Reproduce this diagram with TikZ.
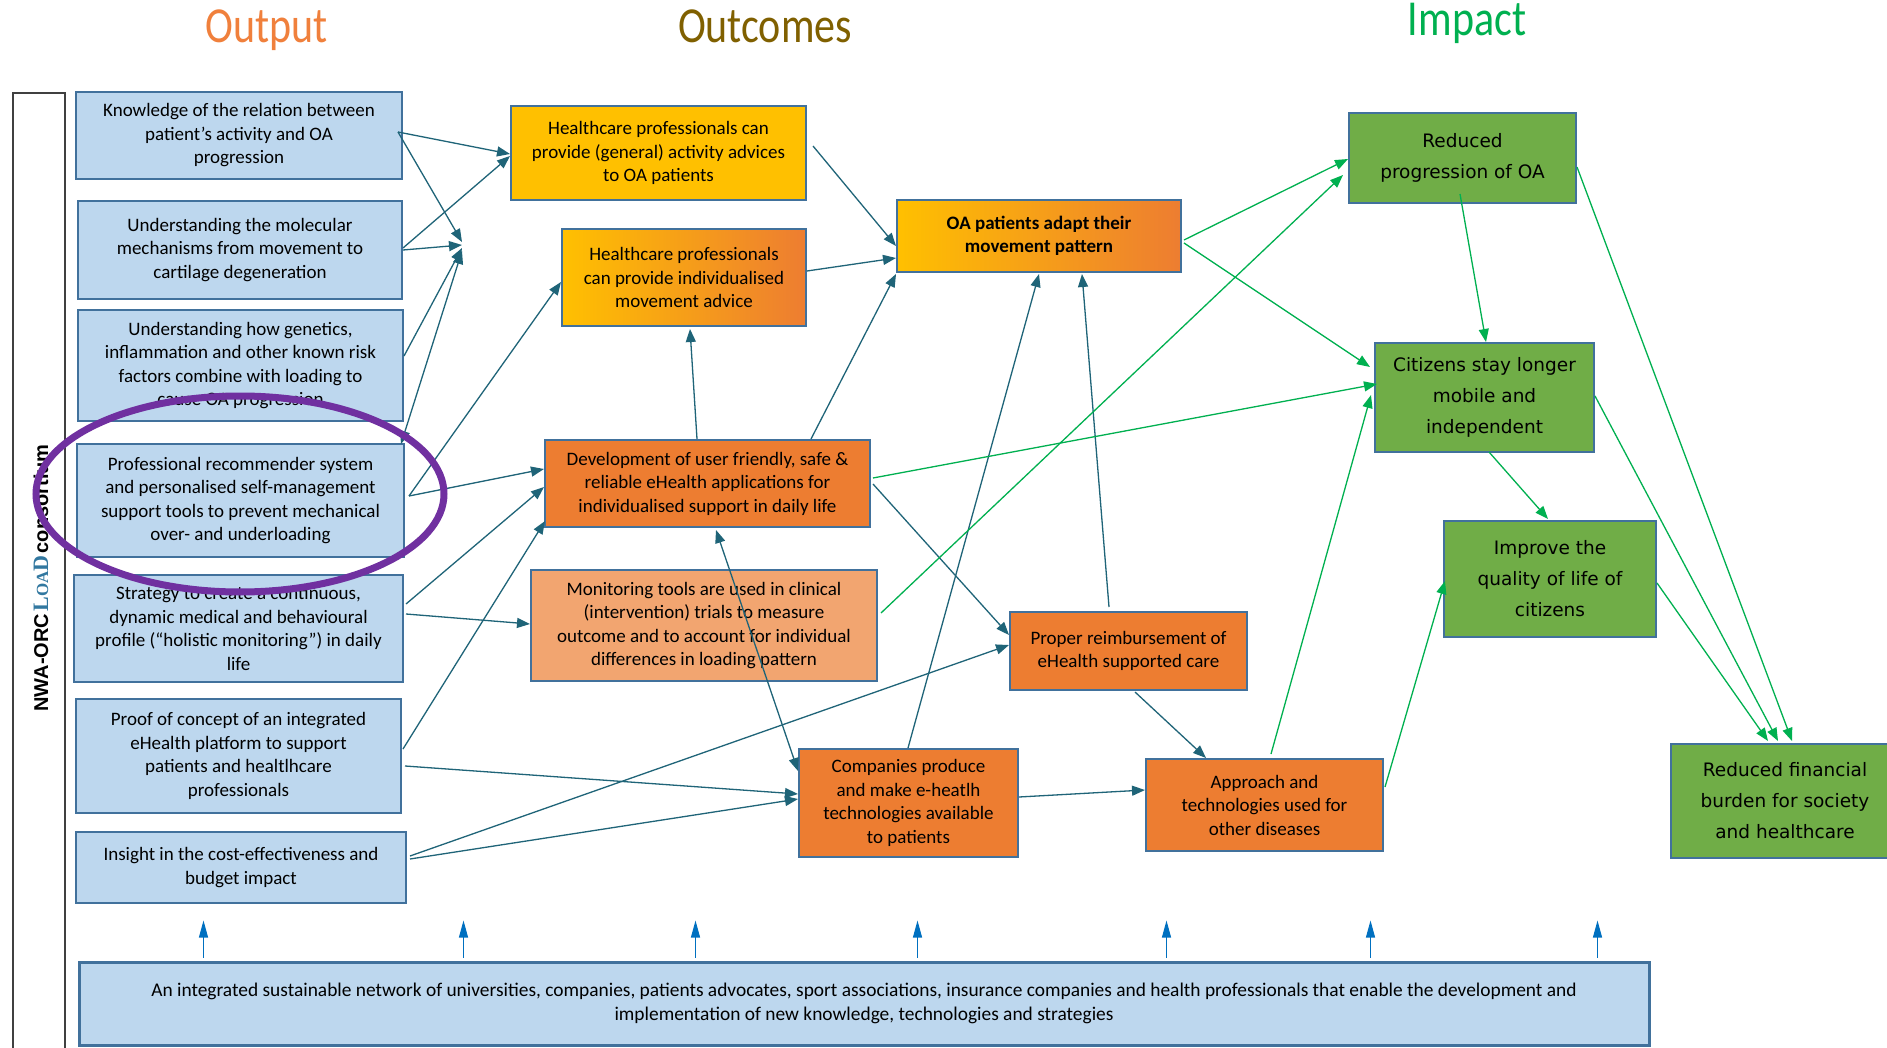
\documentclass[tikz,border=0pt]{standalone}
\usepackage{graphicx}
\usepackage{fontspec}
\setmainfont{Carlito}
\newfontfamily\greenfont{DejaVu Sans}
\newfontfamily\lsans{Liberation Sans}
\newfontfamily\lserif{Liberation Serif}
\usetikzlibrary{arrows.meta,calc}
\definecolor{bluefill}{RGB}{189,215,238}
\definecolor{boxline}{RGB}{65,113,156}
\definecolor{ogold}{RGB}{255,192,0}
\definecolor{oorange}{RGB}{237,125,49}
\definecolor{opeach}{RGB}{242,165,112}
\definecolor{igreen}{RGB}{112,173,71}
\definecolor{tealline}{RGB}{31,100,120}
\definecolor{gline}{RGB}{0,176,80}
\definecolor{barrowc}{RGB}{0,112,192}
\definecolor{ellc}{RGB}{112,48,160}
\definecolor{titleout}{RGB}{240,128,60}
\definecolor{titleoc}{RGB}{128,96,0}
\definecolor{titleimp}{RGB}{0,176,80}
\definecolor{framec}{RGB}{64,64,64}
\definecolor{loadc}{RGB}{50,120,160}
\newcommand{\mkbox}[7]{\node[#6, minimum width={#4-#2}, minimum height={#5-#3}] (#1) at ({(#2+#4)/2},{(#3+#5)/2}) {#7};}
\begin{document}
\begin{tikzpicture}[x=1pt,y=-1pt,
  basebox/.style={draw=boxline, line width=2pt, inner sep=0pt, align=center, text=black},
  bluebox/.style={basebox, fill=bluefill, font=\fontsize{19}{23.5}\selectfont},
  midbox/.style={basebox, font=\fontsize{19}{23.5}\selectfont},
  greenbox/.style={basebox, fill=igreen, font=\greenfont\fontsize{18.5}{31}\selectfont},
  conn/.style={draw=tealline, line width=1.3pt, -{Triangle[length=13pt,width=10pt]}},
  bconn/.style={draw=tealline, line width=1.3pt, {Triangle[length=13pt,width=10pt]}-{Triangle[length=13pt,width=10pt]}},
  gconn/.style={draw=gline, line width=1.3pt, -{Triangle[length=13pt,width=10pt]}},
  barrow/.style={draw=barrowc, line width=1.1pt, -{Triangle[length=17pt,width=9pt]}},
  titlenode/.style={anchor=base, inner sep=0pt, font=\fontsize{42}{42}\selectfont}
]
\useasboundingbox (0,0) rectangle (1887,1048);
\fill[white] (0,0) rectangle (1887,1048);

% titles
\node[titlenode, text=titleout] (tOut) at (267,43) {\scalebox{1}[1.2]{Output}};
\node[titlenode, text=titleoc] (tOc) at (765,43) {\scalebox{1}[1.2]{Outcomes}};
\node[titlenode, text=titleimp] (tImp) at (1467,36) {\scalebox{1}[1.2]{Impact}};

% side frame
\draw[framec, line width=1.5pt] (13,1060) -- (13,93) -- (65,93) -- (65,1060);
\node[rotate=90, inner sep=0pt] (lbl) at (41,578) {{\lsans\bfseries\fontsize{20}{20}\selectfont NWA-ORC} {\lserif\bfseries\color{loadc}\fontsize{22}{22}\selectfont L{\fontsize{17}{17}\selectfont OA}D} {\lsans\bfseries\fontsize{20}{20}\selectfont consortium}};

% output boxes
\mkbox{K1}{76}{92}{402}{179}{bluebox}{Knowledge of the relation between\\ patient’s activity and OA\\ progression}
\mkbox{U1}{78}{201}{402}{299}{bluebox}{Understanding the molecular\\ mechanisms from movement to\\ cartilage degeneration}
\mkbox{U2}{78}{310}{403}{421}{bluebox}{Understanding how genetics,\\ inflammation and other known risk\\ factors combine with loading to\\ cause OA progression}
\mkbox{P}{77}{444}{404}{557}{bluebox}{Professional recommender system\\ and personalised self-management\\ support tools to prevent mechanical\\ over- and underloading}
\mkbox{S}{74}{575}{403}{682}{bluebox}{Strategy to create a continuous,\\ dynamic medical and behavioural\\ profile (“holistic monitoring”) in daily\\ life}
\mkbox{PoC}{76}{699}{401}{813}{bluebox}{Proof of concept of an integrated\\ eHealth platform to support\\ patients and healtlhcare\\ professionals}
\mkbox{I}{76}{832}{406}{903}{bluebox}{Insight in the cost-effectiveness and\\ budget impact}

% outcome boxes
\mkbox{H1}{511}{106}{806}{200}{midbox, fill=ogold}{Healthcare professionals can\\ provide (general) activity advices\\ to OA patients}
\mkbox{H2}{562}{229}{806}{326}{midbox, left color=ogold, right color=oorange}{Healthcare professionals\\ can provide individualised\\ movement advice}
\mkbox{OA}{897}{200}{1181}{272}{midbox, left color=ogold, right color=oorange, font=\fontsize{19}{23.5}\selectfont\bfseries}{OA patients adapt their\\ movement pattern}
\mkbox{D}{545}{440}{870}{527}{midbox, fill=oorange}{Development of user friendly, safe \&\\ reliable eHealth applications for\\ individualised support in daily life}
\mkbox{M}{531}{570}{877}{681}{midbox, fill=opeach}{Monitoring tools are used in clinical\\ (intervention) trials to measure\\ outcome and to account for individual\\ differences in loading pattern}
\mkbox{PR}{1010}{612}{1247}{690}{midbox, fill=oorange}{Proper reimbursement of\\ eHealth supported care}
\mkbox{C}{799}{749}{1018}{857}{midbox, fill=oorange}{Companies produce\\ and make e-heatlh\\ technologies available\\ to patients}
\mkbox{A}{1146}{759}{1383}{851}{midbox, fill=oorange}{Approach and\\ technologies used for\\ other diseases}

% impact boxes
\mkbox{RP}{1349}{113}{1576}{203}{greenbox}{Reduced\\ progression of OA}
\mkbox{CS}{1375}{343}{1594}{452}{greenbox}{Citizens stay longer\\ mobile and\\ independent}
\mkbox{IQ}{1444}{521}{1656}{637}{greenbox}{Improve the\\ quality of life of\\ citizens}
\mkbox{RF}{1671}{744}{1899}{858}{greenbox}{Reduced financial\\ burden for society\\ and healthcare}

% bottom box
\mkbox{B}{79}{962}{1649}{1045}{bluebox, line width=3pt, font=\fontsize{19.4}{24}\selectfont}{An integrated sustainable network of universities, companies, patients advocates, sport associations, insurance companies and health professionals that enable the development and\\ implementation of new knowledge, technologies and strategies}

% convergence point
\coordinate (X) at (462,245);

% teal connectors
\draw[conn] ($(K1.north east)+(-5,41)$) -- ($(H1.north west)+(0,49)$);
\draw[conn] ($(K1.north east)+(-5,41)$) -- ($(X)+(0,-3)$);
\draw[conn] ($(U1.north east)+(0,50)$) -- (X);
\draw[conn] ($(U1.north east)+(0,48)$) -- ($(H1.north west)+(0,51)$);
\draw[conn] ($(U2.north east)+(0,47)$) -- ($(X)+(0,3)$);
\draw[bconn] ($(X)+(0,6)$) -- ($(P.north east)+(-4,1)$);
\draw[conn] ($(P.north east)+(4,53)$) -- ($(H2.north west)+(0,54)$);
\draw[conn] ($(P.north east)+(4,53)$) -- ($(D.north west)+(0,30)$);
\draw[conn] ($(S.north east)+(2,30)$) -- ($(D.north west)+(0,48)$);
\draw[conn] ($(S.north east)+(2,40)$) -- ($(M.north west)+(0,55)$);
\draw[conn] ($(PoC.north east)+(1,51)$) -- ($(D.north west)+(1,82)$);
\draw[conn] ($(PoC.north east)+(3,68)$) -- ($(C.north west)+(0,46)$);
\draw[conn] ($(I.north east)+(3,28)$) -- ($(C.north west)+(0,51)$);
\draw[conn] ($(I.north east)+(3,25)$) -- ($(PR.north west)+(0,34)$);
\draw[conn] ($(H1.north east)+(6,41)$) -- ($(OA.north west)+(0,47)$);
\draw[conn] ($(H2.north east)+(0,43)$) -- ($(OA.north west)+(0,59)$);
\draw[conn] ($(D.north west)+(153,0)$) -- ($(H2.south west)+(129,2)$);
\draw[conn] ($(D.north west)+(267,0)$) -- ($(OA.south west)+(0,1)$);
\draw[conn] ($(D.north east)+(2,45)$) -- ($(PR.north west)+(0,24)$);
\draw[bconn] ($(D.south west)+(172,2)$) -- ($(C.north west)+(0,23)$);
\draw[conn] ($(C.north west)+(110,0)$) -- ($(OA.south west)+(143,1)$);
\draw[conn] ($(PR.north west)+(100,-4)$) -- ($(OA.south west)+(186,1)$);
\draw[conn] ($(C.north east)+(0,49)$) -- ($(A.north west)+(0,32)$);
\draw[conn] ($(PR.south west)+(126,1)$) -- ($(A.north west)+(61,0)$);

% green connectors
\draw[gconn] ($(OA.north east)+(2,41)$) -- ($(RP.north west)+(0,47)$);
\draw[gconn] ($(M.north east)+(3,44)$) -- ($(RP.north west)+(-5,63)$);
\draw[gconn] ($(OA.north east)+(2,44)$) -- ($(CS.north west)+(-4,25)$);
\draw[gconn] ($(D.north east)+(2,39)$) -- ($(CS.north west)+(3,42)$);
\draw[gconn] ($(A.north west)+(126,-4)$) -- ($(CS.north west)+(-3,53)$);
\draw[gconn] ($(A.north east)+(1,29)$) -- ($(IQ.north west)+(2,61)$);
\draw[gconn] ($(RP.south west)+(112,-10)$) -- ($(CS.north west)+(112,0)$);
\draw[gconn] ($(CS.south west)+(115,-1)$) -- ($(IQ.north west)+(105,-1)$);
\draw[gconn] ($(RP.north east)+(0,55)$) -- ($(RF.north west)+(122,-2)$);
\draw[gconn] ($(CS.north east)+(0,54)$) -- ($(RF.north west)+(108,-2)$);
\draw[gconn] ($(IQ.north east)+(0,63)$) -- ($(RF.north west)+(98,-2)$);

% bottom arrows
\foreach \dx in {126,386,618,840,1089,1293,1520}{
  \draw[barrow] ($(B.north west)+(\dx,-3)$) -- ++(0,-37);
}

% highlight ellipse
\draw[ellc, line width=7pt] (240,494) ellipse [x radius=204, y radius=98];
\end{tikzpicture}
\end{document}
